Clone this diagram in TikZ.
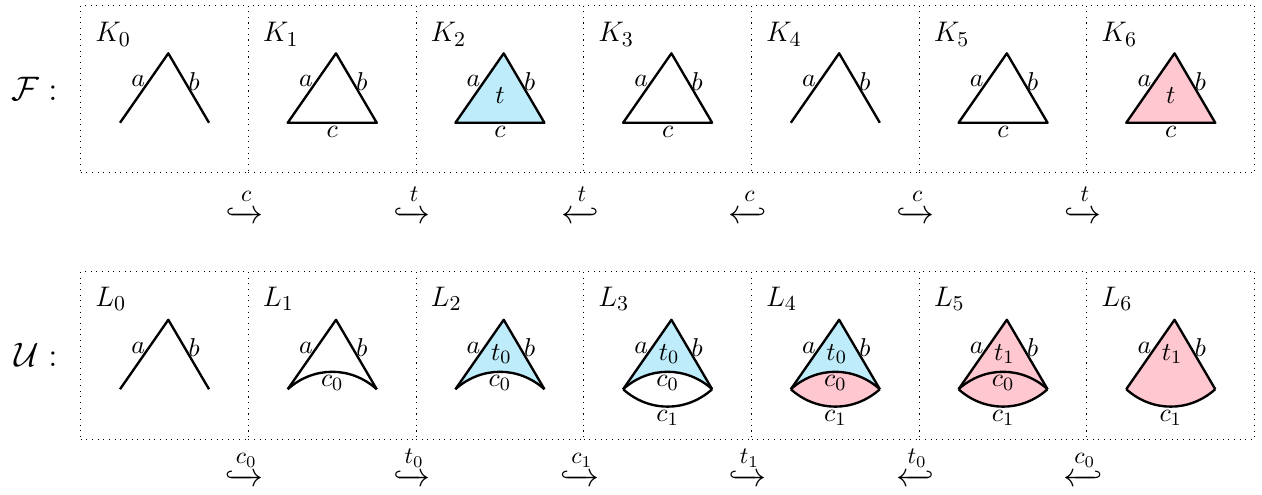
\documentclass[tikz,border=0pt]{standalone}
\usepackage{amsmath,amssymb,mathtools}
\usepackage{xcolor}
\usepackage{tikz}
\usetikzlibrary{positioning, arrows.meta, calc}
\definecolor{lightblue}{RGB}{190,236,250}
\definecolor{lightpink}{RGB}{255,199,208}

% corners of the triangle, relative to the centre of a cell
\newcommand{\trianglecorners}{%
  \coordinate (P) at (-0.664,-0.505);
  \coordinate (Q) at (0.663,-0.505);
  \coordinate (A) at (0.056,0.53);}

\begin{document}
\begin{tikzpicture}[font=\fontsize{11}{13}\selectfont,
    cell/.style={draw, dotted, minimum width=2.5cm, minimum height=2.5cm, inner sep=0pt, outer sep=0pt},
    edge/.style={line width=1pt, line join=round},
    lab/.style={inner sep=1.2pt},
    cellname/.style={anchor=base west, inner sep=0pt, font=\fontsize{13.2}{16}\selectfont},
    hk/.style={anchor=base, inner sep=0pt, font=\fontsize{14}{17}\selectfont}]
  \useasboundingbox (0,0) rectangle (18.813,-7.379);

  % cells
  \foreach \i in {0,...,6} {
    \node[cell] (K\i) at (2.453+2.5*\i,-1.325) {};
    \node[cell] (L\i) at (2.453+2.5*\i,-5.297) {};
    \node[cellname] (kname\i) at ($(K\i.north west)+(0.21,-0.55)$) {$K_{\i}$};
    \node[cellname] (lname\i) at ($(L\i.north west)+(0.21,-0.52)$) {$L_{\i}$};
  }
  \node[left=0.22cm of K0, font=\Large] (F) {$\mathcal{F}:$};
  \node[left=0.22cm of L0, font=\Large] (U) {$\mathcal{U}:$};

  % top row
  \begin{scope}[shift={(K0.center)}]
    \trianglecorners
    \draw[edge] (P) -- node[lab,left,pos=.6] {$a$} (A) -- node[lab,right,pos=.4] {$b$} (Q);
  \end{scope}
  \begin{scope}[shift={(K1.center)}]
    \trianglecorners
    \draw[edge] (P) -- node[lab,left,pos=.6] {$a$} (A) -- node[lab,right,pos=.4] {$b$} (Q)
      -- node[below,inner sep=1pt] {$c$} cycle;
  \end{scope}
  \begin{scope}[shift={(K2.center)}]
    \trianglecorners
    \filldraw[edge, fill=lightblue] (P) -- node[lab,left,pos=.6] {$a$} (A) -- node[lab,right,pos=.4] {$b$} (Q)
      -- node[below,inner sep=1pt] {$c$} cycle;
    \node (tK2) at (0,-0.1) {$t$};
  \end{scope}
  \begin{scope}[shift={(K3.center)}]
    \trianglecorners
    \draw[edge] (P) -- node[lab,left,pos=.6] {$a$} (A) -- node[lab,right,pos=.4] {$b$} (Q)
      -- node[below,inner sep=1pt] {$c$} cycle;
  \end{scope}
  \begin{scope}[shift={(K4.center)}]
    \trianglecorners
    \draw[edge] (P) -- node[lab,left,pos=.6] {$a$} (A) -- node[lab,right,pos=.4] {$b$} (Q);
  \end{scope}
  \begin{scope}[shift={(K5.center)}]
    \trianglecorners
    \draw[edge] (P) -- node[lab,left,pos=.6] {$a$} (A) -- node[lab,right,pos=.4] {$b$} (Q)
      -- node[below,inner sep=1pt] {$c$} cycle;
  \end{scope}
  \begin{scope}[shift={(K6.center)}]
    \trianglecorners
    \filldraw[edge, fill=lightpink] (P) -- node[lab,left,pos=.6] {$a$} (A) -- node[lab,right,pos=.4] {$b$} (Q)
      -- node[below,inner sep=1pt] {$c$} cycle;
    \node (tK6) at (0,-0.1) {$t$};
  \end{scope}

  % bottom row
  \begin{scope}[shift={(L0.center)}]
    \trianglecorners
    \draw[edge] (P) -- node[lab,left,pos=.6] {$a$} (A) -- node[lab,right,pos=.4] {$b$} (Q);
  \end{scope}
  \begin{scope}[shift={(L1.center)}]
    \trianglecorners
    \draw[edge] (P) -- node[lab,left,pos=.6] {$a$} (A) -- node[lab,right,pos=.4] {$b$} (Q);
    \draw[edge] (P) to[bend left=42] node[below,inner sep=1pt] {$c_0$} (Q);
  \end{scope}
  \begin{scope}[shift={(L2.center)}]
    \trianglecorners
    \fill[lightblue] (P) -- (A) -- (Q) to[bend right=42] (P);
    \draw[edge] (P) -- node[lab,left,pos=.6] {$a$} (A) -- node[lab,right,pos=.4] {$b$} (Q);
    \draw[edge] (P) to[bend left=42] node[below,inner sep=1pt] {$c_0$} (Q);
    \node (tL2) at (0.02,0.02) {$t_0$};
  \end{scope}
  \begin{scope}[shift={(L3.center)}]
    \trianglecorners
    \fill[lightblue] (P) -- (A) -- (Q) to[bend right=42] (P);
    \draw[edge] (P) -- node[lab,left,pos=.6] {$a$} (A) -- node[lab,right,pos=.4] {$b$} (Q);
    \draw[edge] (P) to[bend left=42] node[below,inner sep=1pt] {$c_0$} (Q);
    \draw[edge] (P) to[bend right=42] node[below,inner sep=1pt] {$c_1$} (Q);
    \node (tL3) at (0.02,0.02) {$t_0$};
  \end{scope}
  \begin{scope}[shift={(L4.center)}]
    \trianglecorners
    \fill[lightblue] (P) -- (A) -- (Q) to[bend right=42] (P);
    \fill[lightpink] (P) to[bend left=42] (Q) to[bend left=42] (P);
    \draw[edge] (P) -- node[lab,left,pos=.6] {$a$} (A) -- node[lab,right,pos=.4] {$b$} (Q);
    \draw[edge] (P) to[bend left=42] node[below,inner sep=1pt] {$c_0$} (Q);
    \draw[edge] (P) to[bend right=42] node[below,inner sep=1pt] {$c_1$} (Q);
    \node (tL4) at (0.02,0.02) {$t_0$};
  \end{scope}
  \begin{scope}[shift={(L5.center)}]
    \trianglecorners
    \fill[lightpink] (P) -- (A) -- (Q) to[bend left=42] (P);
    \draw[edge] (P) -- node[lab,left,pos=.6] {$a$} (A) -- node[lab,right,pos=.4] {$b$} (Q);
    \draw[edge] (P) to[bend left=42] node[below,inner sep=1pt] {$c_0$} (Q);
    \draw[edge] (P) to[bend right=42] node[below,inner sep=1pt] {$c_1$} (Q);
    \node (tL5) at (0.02,0.02) {$t_1$};
  \end{scope}
  \begin{scope}[shift={(L6.center)}]
    \trianglecorners
    \fill[lightpink] (P) -- (A) -- (Q) to[bend left=42] (P);
    \draw[edge] (P) -- node[lab,left,pos=.6] {$a$} (A) -- node[lab,right,pos=.4] {$b$} (Q);
    \draw[edge] (P) to[bend right=42] node[below,inner sep=1pt] {$c_1$} (Q);
    \node (tL6) at (0.02,0.02) {$t_1$};
  \end{scope}

  % inclusions
  \foreach \i/\arr in {1/{\xhookrightarrow{\,c\,}}, 2/{\xhookrightarrow{\,t\,}}, 3/{\xhookleftarrow{\,t\,}},
                       4/{\xhookleftarrow{\,c\,}}, 5/{\xhookrightarrow{\,c\,}}, 6/{\xhookrightarrow{\,t\,}}}
    \node[hk] (f\i) at ($(K\i.south west)+(-0.06,-0.75)$) {$\arr$};
  \foreach \i/\arr in {1/{\xhookrightarrow{c_0}}, 2/{\xhookrightarrow{t_0}}, 3/{\xhookrightarrow{c_1}},
                       4/{\xhookrightarrow{t_1}}, 5/{\xhookleftarrow{t_0}}, 6/{\xhookleftarrow{c_0}}}
    \node[hk] (u\i) at ($(L\i.south west)+(-0.06,-0.7)$) {$\arr$};
\end{tikzpicture}
\end{document}
